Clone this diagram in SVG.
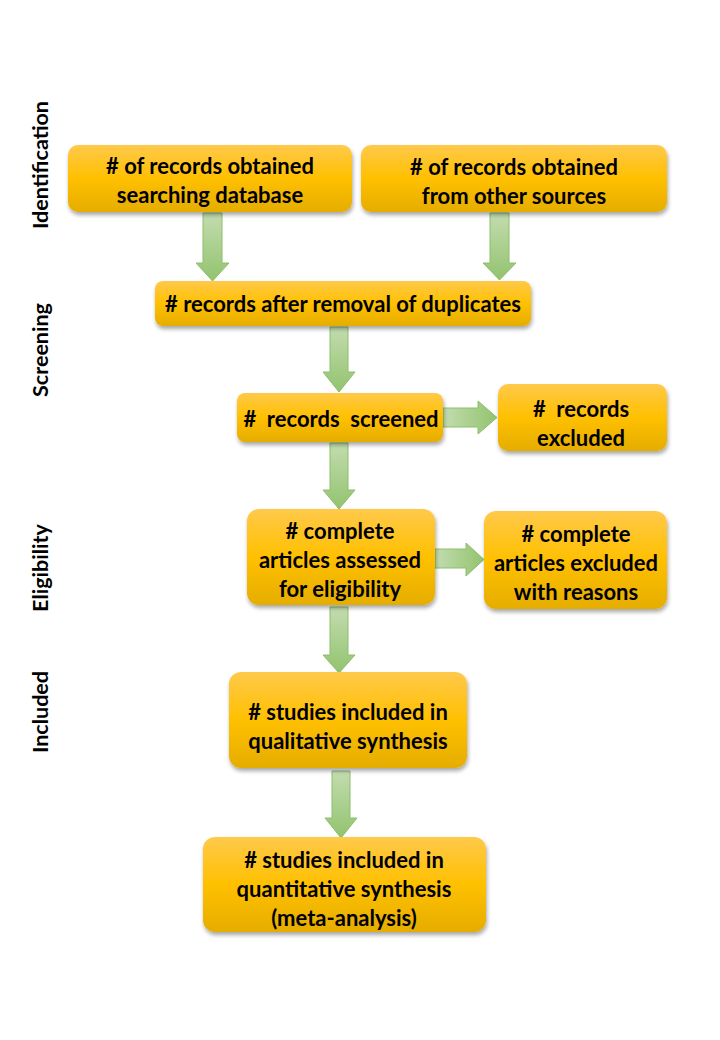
<svg xmlns="http://www.w3.org/2000/svg" width="720" height="1040" viewBox="0 0 720 1040">
<style>
.box{fill:url(#gold);filter:url(#sh)}
.t{font-family:Lato,"Open Sans","Liberation Sans",sans-serif;font-weight:bold;font-size:22px;fill:#000;text-anchor:middle;dominant-baseline:central;white-space:pre}
.lbl{font-family:Lato,"Open Sans","Liberation Sans",sans-serif;font-weight:bold;font-size:21.5px;fill:#000;text-anchor:middle;dominant-baseline:central}
.arr{stroke:#8cbf6a;stroke-width:1;stroke-linejoin:miter}
.v{fill:url(#gv)}
.h{fill:url(#gh)}
</style>
<defs>
<linearGradient id="gold" x1="0" y1="0" x2="0" y2="1">
<stop offset="0" stop-color="#ffc94b"/>
<stop offset="0.5" stop-color="#ffc000"/>
<stop offset="1" stop-color="#e5ad00"/>
</linearGradient>
<linearGradient id="gv" x1="0" y1="0" x2="0" y2="1">
<stop offset="0" stop-color="#c3dcb0"/>
<stop offset="1" stop-color="#92c36e"/>
</linearGradient>
<linearGradient id="gh" x1="0" y1="0" x2="1" y2="0">
<stop offset="0" stop-color="#c3dcb0"/>
<stop offset="1" stop-color="#92c36e"/>
</linearGradient>
<filter id="sh" x="-10%" y="-20%" width="120%" height="150%">
<feGaussianBlur in="SourceAlpha" stdDeviation="2"/>
<feOffset dx="1" dy="3" result="b"/>
<feComponentTransfer><feFuncA type="linear" slope="0.35"/></feComponentTransfer>
<feMerge><feMergeNode/><feMergeNode in="SourceGraphic"/></feMerge>
</filter>
</defs>
<rect width="720" height="1040" fill="#fff"/>
<g id="stage-labels">
<text class="lbl" transform="translate(40,165) rotate(-90)">Identification</text>
<text class="lbl" transform="translate(40,350) rotate(-90)">Screening</text>
<text class="lbl" transform="translate(40,568) rotate(-90)">Eligibility</text>
<text class="lbl" transform="translate(40,712) rotate(-90)">Included</text>
</g>
<g id="connectors">
<path class="arr v" d="M203,213 H222 V263 H229 L212.5,281 L196,263 H203 Z"/>
<path class="arr v" d="M490,213 H509 V263 H516 L499.5,280 L483,263 H490 Z"/>
<path class="arr v" d="M330,327 H348 V372 H355 L339,392 L323,372 H330 Z"/>
<path class="arr h" d="M443,408 H478 V401 L497,417.5 L478,434 V427 H443 Z"/>
<path class="arr v" d="M330,443 H348 V490 H355 L339,509 L323,490 H330 Z"/>
<path class="arr h" d="M435,549 H466 V543 L484,559.5 L466,576 V568 H435 Z"/>
<path class="arr v" d="M330,607 H348 V655 H355 L339,673 L323,655 H330 Z"/>
<path class="arr v" d="M332,771 H350 V818 H357 L341,838 L325,818 H332 Z"/>
</g>
<g id="n1"><rect class="box" x="68" y="145" width="284" height="67" rx="10"/>
<text class="t"><tspan x="210" y="165"># of records obtained</tspan><tspan x="210" y="194">searching database</tspan></text></g>
<g id="n2"><rect class="box" x="361" y="145" width="306" height="67" rx="10"/>
<text class="t"><tspan x="514" y="166"># of records obtained</tspan><tspan x="514" y="195">from other sources</tspan></text></g>
<g id="n3"><rect class="box" x="155" y="281" width="376" height="45" rx="8"/>
<text class="t" x="343" y="303"># records after removal of duplicates</text></g>
<g id="n4"><rect class="box" x="237" y="393" width="206" height="49" rx="8"/>
<text class="t" x="341" y="418">#  records  screened</text></g>
<g id="n5"><rect class="box" x="498" y="384" width="169" height="67" rx="10"/>
<text class="t"><tspan x="581" y="408">#  records</tspan><tspan x="581" y="437">excluded</tspan></text></g>
<g id="n6"><rect class="box" x="247" y="509" width="188" height="96" rx="12"/>
<text class="t"><tspan x="340" y="530"># complete</tspan><tspan x="340" y="559">articles assessed</tspan><tspan x="340" y="588">for eligibility</tspan></text></g>
<g id="n7"><rect class="box" x="484" y="511" width="183" height="98" rx="12"/>
<text class="t"><tspan x="576" y="533"># complete</tspan><tspan x="576" y="562">articles excluded</tspan><tspan x="576" y="591">with reasons</tspan></text></g>
<g id="n8"><rect class="box" x="229" y="672" width="238" height="96" rx="12"/>
<text class="t"><tspan x="348" y="711"># studies included in</tspan><tspan x="348" y="740">qualitative synthesis</tspan></text></g>
<g id="n9"><rect class="box" x="203" y="837" width="283" height="95" rx="12"/>
<text class="t"><tspan x="344" y="859"># studies included in</tspan><tspan x="344" y="888">quantitative synthesis</tspan><tspan x="344" y="917">(meta-analysis)</tspan></text></g>
</svg>
